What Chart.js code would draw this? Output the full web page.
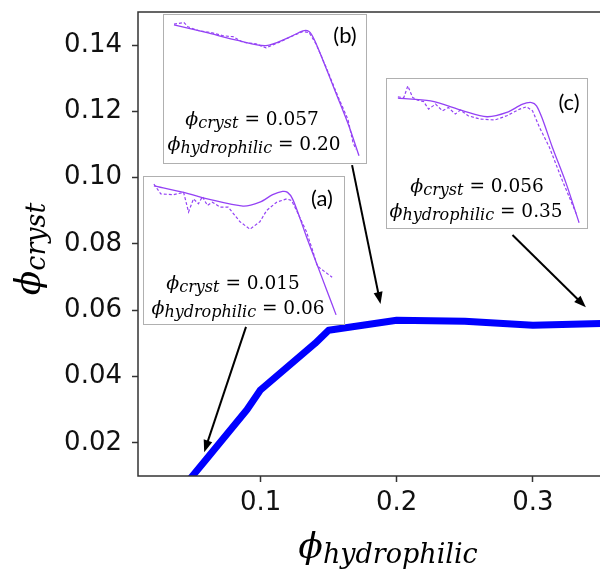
<!DOCTYPE html>
<html>
<head>
<meta charset="utf-8">
<script src="https://cdn.jsdelivr.net/npm/chart.js@4.4.1/dist/chart.umd.min.js"></script>
<style>
  html, body { margin: 0; padding: 0; background: #fff; }
  #wrap { position: relative; width: 600px; height: 573px; overflow: hidden; }
  #main { position: absolute; left: 0; top: 0; }
  .inset { position: absolute; background: #fff; border: 1px solid #b0b0b0; box-sizing: border-box; }
  .inset canvas { display: block; }
</style>
</head>
<body>
<div id="wrap">
  <canvas id="main" width="612" height="573"></canvas>
  <div class="inset" style="left:163px; top:14px; width:204px; height:150px;"><canvas id="insetB" width="202" height="148"></canvas></div>
  <div class="inset" style="left:386px; top:78px; width:202px; height:151px;"><canvas id="insetC" width="200" height="149"></canvas></div>
  <div class="inset" style="left:143px; top:176px; width:202px; height:149px;"><canvas id="insetA" width="200" height="147"></canvas></div>
</div>
<script>
// Crystalline fraction against hydrophilic fraction
const phiHydrophilic = [0.04, 0.06, 0.09, 0.10, 0.14, 0.15, 0.20, 0.25, 0.30, 0.35];
const phiCryst       = [0.005, 0.015, 0.030, 0.036, 0.050, 0.054, 0.057, 0.0567, 0.0555, 0.056];
const xTickValues = [0.1, 0.2, 0.3];
const yTickValues = [0.02, 0.04, 0.06, 0.08, 0.10, 0.12, 0.14];

// Arrows from each profile panel to its point on the curve
const arrowFromX = [0.0893, 0.1672, 0.285];
const arrowFromY = [0.055, 0.1038, 0.0827];
const arrowToX   = [0.0586, 0.1881, 0.3389];
const arrowToY   = [0.0172, 0.0619, 0.0609];

// Profile (a): phi_hydrophilic = 0.06
const aSolidX = [10, 40, 64, 100, 117, 130, 140, 145, 150, 157, 164, 174, 184, 194];
const aSolidY = [141, 134.3, 127.7, 120.3, 124.3, 132, 135.3, 134.3, 127.7, 109.3, 89.3, 62.7, 36, 9.3];
const aDashX  = [10, 17, 30, 40, 45, 50, 55, 59, 64, 69, 77, 85, 97, 107, 117, 124, 134, 144, 149, 154, 164, 170, 175, 179, 190];
const aDashY  = [142.7, 132.7, 132, 134.3, 114.3, 127.7, 122.7, 130, 121, 124.3, 119.3, 119.3, 104.3, 96.7, 104.3, 116, 124.3, 127.7, 126, 116, 94.3, 76, 59.3, 56, 47.7];

// Profile (b): phi_hydrophilic = 0.20
const bSolidX = [10, 42, 75, 102, 125, 139, 145, 150, 159, 172, 185, 195];
const bSolidY = [140, 132.3, 124, 119, 127.3, 134, 133.3, 125.7, 104, 70.7, 37.3, 7.3];
const bDashX  = [10, 20, 24, 35, 47, 59, 69, 79, 92, 102, 115, 129, 139, 145, 152, 162, 174, 184, 189, 192];
const bDashY  = [140.7, 142.3, 138, 134, 132.3, 129, 128, 122.3, 120.7, 116.7, 122.3, 129, 133.3, 132.3, 120.7, 97.3, 67.3, 44, 20.7, 14];

// Profile (c): phi_hydrophilic = 0.35
const cSolidX = [11, 44, 77, 101, 121, 137, 146, 151, 157, 167, 181, 194];
const cSolidY = [130.7, 128, 118, 112, 116.3, 124.7, 126.3, 123, 109.7, 81.3, 44.7, 5.3];
const cDashX  = [11, 17, 21, 26, 31, 37, 42, 49, 56, 62, 69, 74, 82, 94, 109, 121, 134, 141, 147, 154, 164, 177, 191];
const cDashY  = [132, 131.3, 143, 131.3, 128.7, 127.3, 119.7, 124.7, 118, 121.3, 114.7, 118.7, 113, 109.7, 108.7, 113, 119.7, 122, 118, 101.3, 81.3, 48, 14.7];

const PHI = '\u03D5';
const SERIF = '"DejaVu Serif"';

// Draws a run of differently styled pieces centred on (cx, baseline)
function drawRun(ctx, pieces, cx, baseline) {
  let total = 0;
  pieces.forEach(p => { ctx.font = p.font; p.w = ctx.measureText(p.t).width; total += p.w; });
  let x = cx - total / 2;
  ctx.textAlign = 'left';
  ctx.textBaseline = 'alphabetic';
  pieces.forEach(p => { ctx.font = p.font; ctx.fillText(p.t, x, baseline + (p.dy || 0)); x += p.w; });
}

const framePlugin = {
  id: 'frame',
  afterDraw(chart) {
    const { ctx, chartArea: a } = chart;
    ctx.save();
    ctx.strokeStyle = '#333';
    ctx.lineWidth = 1.5;
    ctx.strokeRect(a.left, a.top, a.right - a.left, a.bottom - a.top);
    ctx.restore();
  }
};

const arrowPlugin = {
  id: 'arrows',
  afterDraw(chart) {
    const { ctx, scales: { x, y } } = chart;
    ctx.save();
    ctx.strokeStyle = '#000';
    ctx.fillStyle = '#000';
    ctx.lineWidth = 2;
    for (let i = 0; i < arrowFromX.length; i++) {
      const x0 = x.getPixelForValue(arrowFromX[i]), y0 = y.getPixelForValue(arrowFromY[i]);
      const x1 = x.getPixelForValue(arrowToX[i]),   y1 = y.getPixelForValue(arrowToY[i]);
      const len = Math.hypot(x1 - x0, y1 - y0);
      const ux = (x1 - x0) / len, uy = (y1 - y0) / len;
      const head = 12, half = 4.5;
      const bx = x1 - ux * head, by = y1 - uy * head;
      ctx.beginPath();
      ctx.moveTo(x0, y0);
      ctx.lineTo(bx + ux * 2, by + uy * 2);
      ctx.stroke();
      ctx.beginPath();
      ctx.moveTo(x1, y1);
      ctx.lineTo(bx - uy * half, by + ux * half);
      ctx.lineTo(bx + uy * half, by - ux * half);
      ctx.closePath();
      ctx.fill();
    }
    ctx.restore();
  }
};

const axisTitlePlugin = {
  id: 'axisTitles',
  afterDraw(chart) {
    const { ctx, chartArea: a } = chart;
    ctx.save();
    ctx.fillStyle = '#000';
    // x title
    drawRun(ctx, [
      { t: PHI, font: 'italic 36px ' + SERIF },
      { t: 'hydrophilic', font: 'italic 27px ' + SERIF, dy: 5 }
    ], a.left + 250, 558);
    // y title, rotated to read upwards
    ctx.translate(40, 249);
    ctx.rotate(-Math.PI / 2);
    drawRun(ctx, [
      { t: PHI, font: 'italic 36px ' + SERIF },
      { t: 'cryst', font: 'italic 27px ' + SERIF, dy: 5 }
    ], 0, 0);
    ctx.restore();
  }
};

new Chart(document.getElementById('main'), {
  type: 'line',
  data: {
    datasets: [{
      data: phiHydrophilic.map((v, i) => ({ x: v, y: phiCryst[i] })),
      borderColor: '#0000ff',
      borderWidth: 7,
      borderJoinStyle: 'round',
      pointRadius: 0,
      tension: 0,
      clip: 0
    }]
  },
  options: {
    responsive: false,
    animation: false,
    events: [],
    layout: { padding: { left: 0, top: 12, right: 11, bottom: 0 } },
    plugins: { legend: { display: false }, tooltip: { enabled: false } },
    scales: {
      x: {
        type: 'linear',
        min: 0.01, max: 0.35,
        afterBuildTicks: s => { s.ticks = xTickValues.map(v => ({ value: v })); },
        afterFit: s => { s.height = 97; s.paddingLeft = 0; s.paddingRight = 0; },
        ticks: {
          callback: v => v.toFixed(1),
          font: { family: 'DejaVu Sans', size: 26 },
          color: '#111',
          padding: 6,
          maxRotation: 0
        },
        grid: { drawOnChartArea: false, drawTicks: true, tickLength: 6, tickColor: '#333', tickWidth: 1.5 },
        border: { display: false }
      },
      y: {
        type: 'linear',
        min: 0.01, max: 0.15,
        afterBuildTicks: s => { s.ticks = yTickValues.map(v => ({ value: v })); },
        afterFit: s => { s.width = 138; s.paddingTop = 0; s.paddingBottom = 0; },
        ticks: {
          callback: v => v.toFixed(2),
          font: { family: 'DejaVu Sans', size: 26 },
          color: '#111',
          padding: 10
        },
        grid: { drawOnChartArea: false, drawTicks: true, tickLength: 6, tickColor: '#333', tickWidth: 1.5 },
        border: { display: false }
      }
    }
  },
  plugins: [framePlugin, arrowPlugin, axisTitlePlugin]
});

// Text written inside each profile panel
const insetTextPlugin = {
  id: 'insetText',
  afterDraw(chart, args, opts) {
    const ctx = chart.ctx;
    ctx.save();
    ctx.fillStyle = '#000';
    ctx.font = '22px Lato';
    ctx.textAlign = 'center';
    ctx.textBaseline = 'middle';
    ctx.fillText(opts.tag, opts.tagX, opts.tagY);
    drawRun(ctx, [
      { t: PHI, font: 'italic 19px ' + SERIF },
      { t: 'cryst', font: 'italic 16px ' + SERIF, dy: 3 },
      { t: ' = ' + opts.cryst, font: '18.5px ' + SERIF }
    ], opts.x1, opts.b1);
    drawRun(ctx, [
      { t: PHI, font: 'italic 19px ' + SERIF },
      { t: 'hydrophilic', font: 'italic 16px ' + SERIF, dy: 3 },
      { t: ' = ' + opts.hydro, font: '18.5px ' + SERIF }
    ], opts.x2, opts.b2);
    ctx.restore();
  }
};

function drawProfile(id, sx, sy, dx, dy, text) {
  const purple = '#9442f5';
  new Chart(document.getElementById(id), {
    type: 'line',
    data: {
      datasets: [
        { data: sx.map((v, i) => ({ x: v, y: sy[i] })), borderColor: purple, borderWidth: 1.3, pointRadius: 0, tension: 0.3 },
        { data: dx.map((v, i) => ({ x: v, y: dy[i] })), borderColor: purple, borderWidth: 1.2, borderDash: [3, 2], pointRadius: 0, tension: 0 }
      ]
    },
    options: {
      responsive: false,
      animation: false,
      events: [],
      layout: { padding: 0 },
      plugins: { legend: { display: false }, tooltip: { enabled: false }, insetText: text },
      scales: {
        x: { type: 'linear', display: false, min: 0, max: 202 },
        y: { type: 'linear', display: false, min: 0, max: 150 }
      }
    },
    plugins: [insetTextPlugin]
  });
}

drawProfile('insetA', aSolidX, aSolidY, aDashX, aDashY,
  { tag: '(a)', tagX: 178, tagY: 22, cryst: '0.015', hydro: '0.06', x1: 89, b1: 112, x2: 94, b2: 137 });
drawProfile('insetB', bSolidX, bSolidY, bDashX, bDashY,
  { tag: '(b)', tagX: 181, tagY: 21, cryst: '0.057', hydro: '0.20', x1: 88, b1: 110, x2: 90, b2: 135 });
drawProfile('insetC', cSolidX, cSolidY, cDashX, cDashY,
  { tag: '(c)', tagX: 182, tagY: 24, cryst: '0.056', hydro: '0.35', x1: 90, b1: 113, x2: 89, b2: 138 });
</script>
</body>
</html>
